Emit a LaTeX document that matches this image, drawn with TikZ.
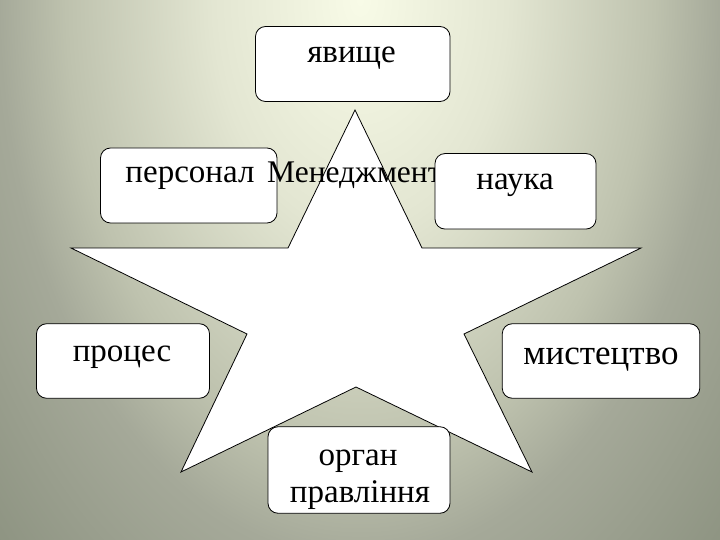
\documentclass[tikz,border=0pt]{standalone}
\usepackage{fontspec}
\setmainfont{Liberation Serif}
\definecolor{bgA}{HTML}{F8FBE7}
\definecolor{bgB}{HTML}{E3E6D2}
\definecolor{bgC}{HTML}{BEC2AE}
\definecolor{bgD}{HTML}{A5A999}
\definecolor{bgE}{HTML}{8E9482}
\pgfdeclareradialshading{bgsh}{\pgfpoint{0bp}{0bp}}{color(0bp)=(bgA); color(4.375bp)=(bgB); color(8.75bp)=(bgC); color(10.75bp)=(bgD); color(15bp)=(bgE); color(50bp)=(bgE)}
\tikzset{
  box/.style={draw=black, fill=white, rounded corners=10pt, line width=0.8pt, inner sep=0pt},
  lbl/.style={inner sep=0pt, font=\fontsize{33pt}{38pt}\selectfont, text=black},
  starshape/.style={draw=black, fill=white, line width=0.8pt, line join=miter}
}
\begin{document}
\begin{tikzpicture}[x=1pt, y=-1pt]
\useasboundingbox (0,0) rectangle (720,540);
\begin{scope}
  \clip (0,0) rectangle (720,540);
  \fill[bgE] (0,0) rectangle (720,540);
  \path[shading=bgsh] (360,0) ellipse (840pt and 1300pt);
\end{scope}
% star
\draw[starshape] (355,110) -- (422,248) -- (641,248) -- (464,334) -- (532,472)
  -- (356,387) -- (181,472) -- (247,334) -- (71,248) -- (288,248) -- cycle;
% boxes
\node[box, minimum width=194.5pt, minimum height=75pt] (yav) at (352.75,64) {};
\node[box, minimum width=176.5pt, minimum height=75pt] (pers) at (188.75,185.5) {};
\node[box, minimum width=173pt, minimum height=74.5pt] (proc) at (123,361) {};
\node[box, minimum width=197.5pt, minimum height=74.5pt] (myst) at (601,361) {};
\node[box, minimum width=182pt, minimum height=86.5pt] (org) at (359,470) {};
% texts
\node[lbl, anchor=base] (tyav) at (351.5,63) {явище};
\node[lbl, anchor=base] (tpers) at (190,183) {персонал};
\node[lbl, anchor=base] (tproc) at (122,361) {процес};
\node[lbl, anchor=base, font=\fontsize{35pt}{40pt}\selectfont] (tmyst) at (601,364) {мистецтво};
\node[lbl, anchor=base] (torg1) at (358,465) {орган};
\node[lbl, anchor=base] (torg2) at (360,502) {правління};
\node[lbl, anchor=base west, font=\fontsize{31.5pt}{36pt}\selectfont] (tman) at (267,183) {Менеджмент};
\node[box, minimum width=161pt, minimum height=75.5pt] (nauka) at (515.5,191.3) {};
\node[lbl, anchor=base] (tnauka) at (515,190) {наука};
\end{tikzpicture}
\end{document}
